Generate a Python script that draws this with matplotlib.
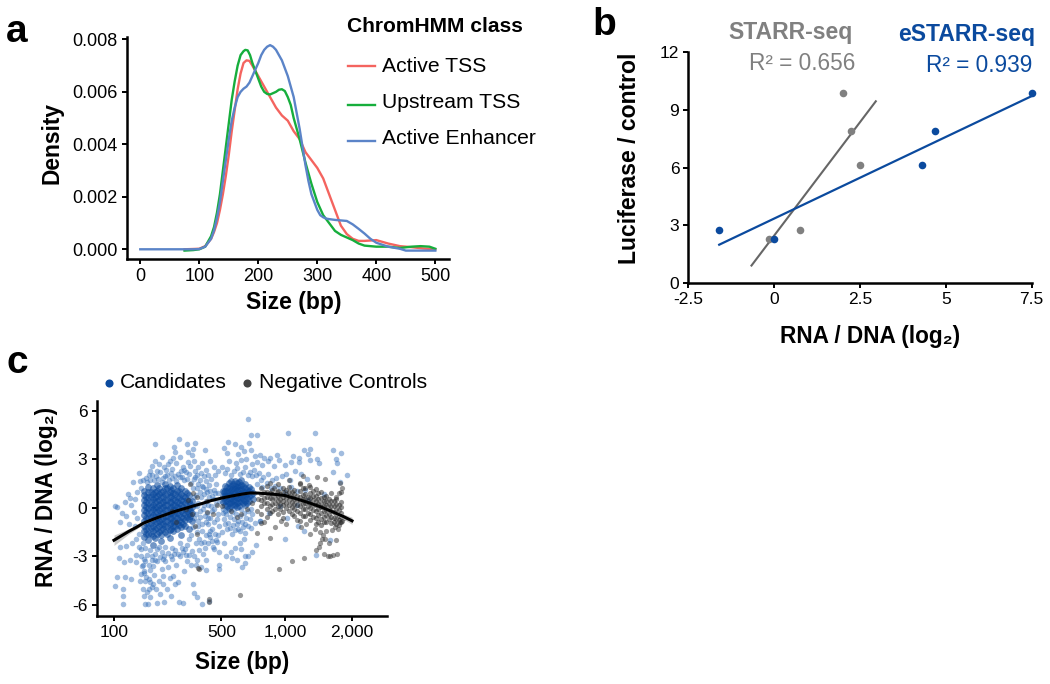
import numpy as np
import matplotlib
matplotlib.use("Agg")
import matplotlib.pyplot as plt
from matplotlib.transforms import Affine2D

plt.rcParams['font.family'] = ['Liberation Sans', 'DejaVu Sans']
plt.rcParams['axes.unicode_minus'] = False

W, H = 1050, 684
BLUE = '#0B4A9E'
fig = plt.figure(figsize=(W / 100, H / 100), dpi=100)
PX = Affine2D().scale(1, -1).translate(0, H)


def axes_px(left, top, right, bottom, tick_size):
    ax = fig.add_axes([left / W, 1 - bottom / H, (right - left) / W, (bottom - top) / H])
    ax.spines[['top', 'right']].set_visible(False)
    ax.spines[['left', 'bottom']].set_linewidth(1.8)
    ax.tick_params(width=1.4, length=3.5, pad=3, labelsize=tick_size, color='black')
    ax.patch.set_alpha(0)
    return ax


def label(x, y, s, size=16.3, weight='bold', color='black', ha='center', va='center', rot=0):
    fig.text(x, y, s, transform=PX, fontsize=size, fontweight=weight, color=color,
             ha=ha, va=va, rotation=rot)


# ---------- panel a data ----------
tss_x = [75, 100, 110, 120, 125, 130, 135, 140, 145, 150, 155, 160, 165, 170, 175, 180, 185, 190, 195, 200, 210, 220, 230, 240, 250, 260, 270,
         280, 290, 300, 310, 320, 330, 340, 350, 360, 370, 380, 400, 420, 440, 460, 480, 500]
tss_y = [0, .00002, .00012, .0004, .00066, .0010, .0015, .0021, .0028, .0036, .0045, .0053, .0061, .0067, .0071, .0072, .00718, .0070, .0068, .0066, .0062, .0058,
         .0054, .0051, .0049, .0045, .0042, .0037, .0034, .0031, .0027, .0021, .0015, .0009, .00058, .0004,
         .00032, .00032, .00035, .00022, .00012, .00008, .00003, 0]
up_x = [75, 90, 100, 110, 120, 125, 130, 135, 140, 145, 150, 155, 160, 165, 170, 175, 178, 182, 186, 190, 195, 200, 205, 210, 215, 220, 225, 230, 235, 240, 245, 250, 255, 260,
        270, 280, 290, 300, 310, 320, 330, 340, 350, 360, 370, 380, 400, 420, 440, 460, 475, 490, 500]
up_y = [-.00005, -.00003, 0, .0001, .0005, .00085, .0014, .0021, .0030, .0039, .0048, .0057, .0064, .0070, .0074, .00755, .0076, .00758, .0074, .0071, .0068, .0065, .0062, .0060,
        .00592, .0059, .00595, .0060, .00608, .0061, .00603, .0058, .0055, .0050, .0042, .0033, .0025, .0018, .0013, .0010, .0007, .00055,
        .00045, .00035, .00022, .00014, .0001, .0001, .00005, .0001, .00012, .0001, .00002]
enh_x = [0, 90, 100, 110, 120, 125, 130, 135, 140, 145, 150, 155, 160, 165, 170, 175, 180, 185, 190, 195, 200, 205, 210, 215, 220, 225, 230, 235, 240, 245, 250, 255, 260, 265, 270, 275, 280,
         285, 290, 295, 300, 305, 310, 315, 320, 330, 340, 350, 360, 370, 380, 390, 400, 420, 440, 450, 500]
enh_y = [0, 0, .00001, .0001, .0004, .00072, .0012, .0018, .0026, .0034, .0042, .0049, .0054, .0058, .0060, .00612, .0062, .00635, .0066, .00685, .0071, .0074, .0076, .00772, .00778,
         .00772, .0076, .0074, .0072, .0069, .0066, .0062, .0058, .0052, .0046, .0039, .0032, .0026, .0021, .0018, .0015, .0013, .00122, .00117, .00115, .00112, .0011, .00108, .00095,
         .00078, .0006, .0004, .00025, .0001, .00002, -.00005, -.00005]
class_names = ['Active TSS', 'Upstream TSS', 'Active Enhancer']
class_colors = ['#F4645F', '#16AE3C', '#5B84C8']

# ---------- panel b data ----------
lucif = [2.75, 2.3, 6.15, 7.9, 9.85]
estarr_rna = [-1.6, 0, 4.3, 4.67, 7.5]
starr_rna = [0.75, -0.15, 2.5, 2.25, 2.0]
estarr_fit_x, estarr_fit_y = [-1.6, 7.5], [2.0, 9.7]
starr_fit_x, starr_fit_y = [-0.66, 2.96], [0.92, 9.43]

# ---------- panel c data ----------
size_ticks = [100, 500, 1000, 2000]
size_tick_labels = ['100', '500', '1,000', '2,000']
curve_bp = [100, 112, 125, 140, 155, 172, 190, 207, 225, 242, 260, 280, 300, 335, 375, 430, 500, 550, 610, 650, 685, 750, 820, 900, 1000, 1130, 1290, 1450, 1640, 1820, 2000]
curve_y = [-2.0, -1.72, -1.45, -1.2, -0.95, -0.78, -0.62, -0.49, -0.37, -0.26, -0.17, -0.08, 0.0, 0.14, 0.27, 0.45, 0.6, 0.71, 0.82, 0.88, 0.92, 0.91, 0.87, 0.83, 0.76, 0.55, 0.3, 0.05, -0.25, -0.52, -0.8]
curve_se = [.32, .24, .16, .11, .08, .06, .05, .05, .04, .04, .04, .04, .04, .04, .04, .04, .04, .04, .04, .04, .04, .04, .04, .05, .05, .06, .06, .08, .1, .15, .22]

cand_high = [(184, 3.96), (265, 4.27), (300, 3.96), (338, 4.0), (246, 3.78), (250, 3.47), (325, 3.65), (305, 3.47),
             (320, 3.28), (205, 3.15), (185, 2.9), (230, 2.9), (242, 3.09), (268, 3.15), (305, 2.85), (332, 2.9),
             (375, 2.78), (392, 3.59), (178, 2.6), (195, 2.7), (212, 2.55), (226, 2.7), (255, 2.75), (282, 2.55),
             (315, 2.6), (350, 2.55), (400, 2.35), (420, 2.9), (445, 2.55), (172, 2.3), (192, 2.3), (218, 2.35),
             (240, 2.4), (272, 2.3), (296, 2.2), (338, 2.25), (366, 2.15), (388, 1.95), (410, 2.05), (455, 2.0),
             (475, 2.3), (162, 1.85), (147, 1.67), (145, 2.16), (133, 1.6), (142, 1.0), (124, .87), (128, .6),
             (118, .37), (101, .12), (105, .06), (112, -.3), (120, -.5), (130, .2), (137, .55), (150, 1.2),
             (155, 1.75), (168, 2.0), (135, -.25), (142, -.6), (110, -.9), (125, -1.0), (138, -1.1), (146, -1.6),
             (176, 2.05), (187, 1.95), (200, 2.2), (209, 1.85), (222, 2.05), (234, 2.15), (248, 1.95), (263, 2.1),
             (279, 1.9), (287, 2.35), (310, 2.1), (330, 1.8), (348, 2.0), (164, 1.6), (171, 1.75), (182, 1.7),
             (194, 1.78), (204, 1.62), (214, 1.95), (227, 1.7), (238, 1.85), (254, 1.68), (270, 1.92), (284, 1.72),
             (300, 1.8), (318, 1.55), (326, 1.2), (333, .7), (338, .15), (330, -.6), (325, -1.2)]
cand_mid = [(335, 1.9), (350, 1.5), (365, 1.75), (378, 1.3), (395, 1.65), (405, .95), (418, 1.4), (430, 1.8),
            (445, 1.1), (460, 1.5), (478, .9), (340, .8), (355, .3), (370, .7), (385, .2), (400, .4), (415, .65),
            (430, .1), (445, .55), (465, .25), (480, .4), (340, -.4), (352, -.8), (362, -.2), (375, -1.0),
            (390, -.5), (402, -.3), (412, -1.0), (425, -.6), (438, -1.3), (450, -.1), (466, -.7), (480, -1.1),
            (345, -1.5), (360, -1.9), (372, -1.45), (385, -2.1), (398, -1.7), (410, -2.2), (425, -1.8), (440, -2.4),
            (460, -2.0), (485, -2.7), (470, -2.1), (360, -2.6), (380, -2.85), (395, -3.2), (345, -3.2),
            (345, 1.2), (362, 1.0), (372, 1.35), (388, .85), (398, 1.15), (412, .15), (425, 1.05), (438, .75), (455, .9),
            (348, .1), (365, -.55), (380, -.1), (395, -.9), (408, -.6), (420, -1.4), (432, -.2), (446, -.85), (458, -1.6),
            (474, -.35), (352, -1.1), (368, -2.2), (392, -2.45), (415, -1.6), (432, -2.05), (450, -2.55), (478, -1.7)]
cand_right = [(665, 5.5), (690, 4.5), (735, 4.5), (535, 4.05), (580, 3.95), (675, 4.0), (620, 3.75), (515, 3.7),
              (530, 3.4), (600, 3.3), (640, 3.5), (690, 3.6), (720, 3.2), (760, 3.25), (800, 3.05), (850, 3.1),
              (920, 3.25), (545, 2.9), (585, 2.75), (620, 2.95), (655, 3.0), (700, 2.7), (740, 2.85), (780, 2.65),
              (830, 2.9), (885, 2.6), (940, 2.95), (1005, 2.65), (1060, 2.85), (1030, 4.6), (1360, 4.6), (1290, 3.65),
              (1215, 3.55), (1150, 3.05), (1090, 3.2), (1160, 2.85), (1270, 3.3), (1300, 2.95), (1390, 3.0), (1420, 2.75),
              (1650, 3.55), (1700, 3.0), (1790, 3.4), (1720, 2.75), (1905, 2.05), (1640, 2.2), (1760, 1.6), (530, 2.4),
              (575, 2.3), (610, 2.1), (650, 2.5), (680, 2.2), (715, 2.35), (755, 2.15), (790, 1.9), (835, 2.1),
              (870, 1.75), (910, 1.85), (965, 1.95), (1010, 2.1), (1055, 1.75), (1110, 2.3), (1185, 2.1), (1250, 1.8),
              (740, 1.5), (780, 1.3), (820, 1.55), (860, 1.2), (900, 1.35), (950, 1.25), (1000, 1.0), (1060, 1.3),
              (1130, 1.05), (1230, 1.1), (1490, .85), (1270, .5), (1130, .2), (950, .1), (840, -.3), (760, -.8),
              (1025, -.6), (1220, -1.4), (1140, -1.1), (1590, -2.0), (1380, -2.9), (1000, -1.9), (760, -.8),
              (510, -.3), (520, -1.0), (505, -1.5), (515, -2.2), (555, -2.7), (525, -2.95), (590, -3.2), (560, -3.1),
              (580, -2.5), (615, -2.2), (640, -1.9), (625, -3.65), (645, -3.0), (670, -2.95), (700, -2.75), (730, -2.3),
              (600, -1.3), (650, -1.55), (690, -1.25), (725, -.95), (620, -2.55), (480, -3.5), (480, -3.75), (650, -3.4),
              (505, 2.5), (520, 2.15), (555, 2.05), (595, 2.45), (635, 2.2), (665, 2.05), (700, 1.95), (730, 2.0), (770, 1.75)]
cand_low = [(105, -4.3), (118, -4.3), (130, -4.4), (102, -4.8), (114, -5.0), (114, -5.45), (114, -5.95), (147, -4.5),
            (158, -5.45), (166, -5.95), (190, -5.9), (212, -5.8), (160, -5.95), (265, -5.8), (282, -5.9), (375, -5.95),
            (415, -5.75), (325, -4.7), (332, -5.25), (345, -5.5), (108, -3.1), (116, -3.35), (127, -3.2), (140, -2.9),
            (140, -3.35), (110, -2.4), (120, -2.35), (131, -2.2), (140, -1.9), (146, -2.4), (150, -3.0), (152, -3.6),
            (156, -3.15), (158, -3.9), (162, -4.25), (168, -3.5), (172, -4.6), (160, -4.5), (176, -4.9), (182, -4.15),
            (188, -5.0), (195, -4.5), (200, -5.3), (210, -4.7), (222, -5.0), (235, -5.45), (242, -4.2), (250, -4.7),
            (262, -4.55), (165, -5.2), (172, -5.5), (155, -5.0), (180, -3.6), (192, -3.3), (205, -3.8), (216, -3.3),
            (226, -3.65), (240, -3.15), (255, -3.5), (270, -3.0), (284, -3.9), (300, -3.3), (318, -3.55), (340, -3.5),
            (368, -3.65), (395, -3.85), (150, -2.55), (165, -2.9), (185, -2.85), (205, -2.75), (225, -2.8), (250, -2.6),
            (280, -2.75), (300, -2.3), (320, -2.65), (340, -2.2), (158, -4.0), (155, -3.55), (176, -3.2), (196, -2.4),
            (160, -3.3), (172, -3.85), (186, -3.2), (200, -3.05), (212, -2.95), (234, -3.0), (262, -2.85), (290, -2.55),
            (310, -2.9), (330, -3.0), (150, -4.1), (168, -4.4), (180, -4.7), (208, -4.2), (230, -4.35), (170, -5.0),
            (160, -2.45), (172, -2.6), (192, -2.55), (214, -2.4), (240, -2.5), (268, -2.2), (278, -2.45), (308, -1.95),
            (318, -1.7), (155, -2.2), (178, -2.95), (210, -3.15), (245, -2.85), (295, -2.9)]
cand_lower_right = [(510, -.05), (528, -.4), (540, -.15), (552, -.55), (562, -.25), (574, -.7), (588, -.35), (600, -.8),
                    (612, -.5), (625, -.9), (640, -.3), (655, -.65), (670, -.2), (685, -.7), (700, -.35), (515, -.7),
                    (535, -.95), (548, -1.25), (565, -1.05), (580, -1.35), (595, -1.0), (610, -1.45), (630, -1.2),
                    (645, -1.0), (665, -1.1), (520, -.2), (575, -.1), (620, -.1), (690, -.1), (530, -1.3), (560, -1.6)]

# Dense clouds, read column by column: one size (bp) and the RNA/DNA values seen at it.
dense_sizes_1 = [157, 167, 179, 190, 202, 216, 230, 243, 258, 274, 290, 306, 322]
dense_col_157 = [1.05, .82, .5, .2, -.12, -.45, -.8, -1.1, -1.45, -1.8]
dense_col_167 = [1.3, 1.0, .65, .33, .02, -.3, -.62, -.95, -1.25, -1.6, -2.0]
dense_col_179 = [1.2, .85, .55, .2, -.1, -.42, -.75, -1.1, -1.45, -1.75, -2.3]
dense_col_190 = [1.4, 1.05, .72, .4, .05, -.28, -.6, -.9, -1.25, -1.6]
dense_col_202 = [1.0, .65, .32, 0, -.34, -.68, -1.0, -1.35, -1.7, -2.05]
dense_col_216 = [1.45, 1.2, .85, .5, .18, -.15, -.48, -.8, -1.15, -1.5]
dense_col_230 = [1.35, 1.0, .68, .35, .02, -.32, -.65, -1.0, -1.35, -1.85]
dense_col_243 = [1.25, .9, .55, .2, -.12, -.45, -.8, -1.1, -1.45]
dense_col_258 = [1.4, 1.05, .7, .38, .05, -.3, -.62, -.95, -1.3]
dense_col_274 = [1.25, .85, .5, .15, -.2, -.55, -.9, -1.2, -1.65]
dense_col_290 = [1.05, .7, .3, -.05, -.4, -.75, -1.15]
dense_col_306 = [.8, .4, .02, -.35, -.7, -1.3]
dense_col_322 = [.45, .05, -.3, -.8]
dense_sizes_1b = [162, 173, 185, 196, 209, 223, 236, 250, 266, 282, 298, 314]
dense_colb_162 = [.65, .35, .05, -.28, -.62, -.95, -1.3, -1.62]
dense_colb_173 = [1.0, .7, .38, .08, -.25, -.58, -.92, -1.27, -1.6]
dense_colb_185 = [1.0, .68, .36, .05, -.26, -.58, -.92, -1.28, -1.85]
dense_colb_196 = [1.2, .85, .5, .18, -.15, -.48, -.82, -1.15, -1.5]
dense_colb_209 = [1.05, .68, .35, .03, -.3, -.63, -.98, -1.32]
dense_colb_223 = [1.2, .85, .5, .2, -.15, -.48, -.82, -1.18, -1.6]
dense_colb_236 = [1.08, .72, .38, .04, -.3, -.62, -.95, -1.28]
dense_colb_250 = [.85, .5, .2, -.15, -.47, -.8, -1.15]
dense_colb_266 = [1.05, .68, .32, -.02, -.38, -.72, -1.08]
dense_colb_282 = [.75, .4, .05, -.3, -.65, -1.0]
dense_colb_298 = [.9, .5, .12, -.22, -.58]
dense_colb_314 = [.22, -.15, -.5]
dense_sizes_2 = [508, 523, 545, 568, 594, 621, 649, 677, 705]
dense_col_508 = [1.05, .72, .38]
dense_col_523 = [1.35, 1.05, .75, .45, .15]
dense_col_545 = [1.55, 1.25, 1.0, .78, .52, .28, 0]
dense_col_568 = [1.45, 1.2, .98, .72, .48, .22]
dense_col_594 = [1.55, 1.3, 1.08, .82, .58, .32, .05]
dense_col_621 = [1.75, 1.42, 1.18, .92, .68, .4]
dense_col_649 = [1.5, 1.22, .98, .72, .45, .15]
dense_col_677 = [1.3, 1.02, .75, .45]
dense_col_705 = [.9, .52]
dense_sizes_2b = [515, 534, 556, 581, 607, 635, 663, 691]
dense_colb_515 = [.95, .62]
dense_colb_534 = [1.3, 1.02, .72, .42, .12]
dense_colb_556 = [1.65, 1.35, 1.1, .85, .6, .35, .1]
dense_colb_581 = [1.65, 1.38, 1.14, .9, .65, .4, .15]
dense_colb_607 = [1.6, 1.35, 1.12, .88, .62, .38, .12]
dense_colb_635 = [1.32, 1.05, .8, .55, .28]
dense_colb_663 = [1.1, .85, .58, .3]
dense_colb_691 = [1.15, .8]

ctrl_scatter = [(415, -5.6), (415, -5.8), (610, -5.4), (935, -3.75), (1070, -3.3), (1215, -3.1), (1380, -2.6),
                (1440, -2.2), (1490, -2.85), (1560, -2.95), (1600, -3.0), (1650, -2.9), (1720, -2.85), (850, -1.85),
                (900, -1.2), (740, -1.55), (770, -.95), (800, -.9), (960, -.8), (1010, -1.0), (1130, -.75), (1180, -1.2),
                (1240, -1.0), (1300, -1.6), (1370, -1.3), (1430, -1.5), (1480, -1.65), (1530, -1.4), (1580, -2.2),
                (1620, -1.35), (1680, -1.2), (1730, -1.3), (1770, -.9), (1800, -.8), (1840, -.6), (1420, -2.4),
                (1470, -1.95), (1510, -1.9), (1700, -2.0), (1770, 1.55), (1800, 1.2), (1520, 1.8), (1395, 1.9), (1280, 1.4),
                (1200, 1.95), (1170, 1.5), (1040, 1.7), (920, .95), (890, 1.25), (850, 1.55), (1690, .65), (1750, .9),
                (350, -3.7), (360, -3.75), (240, -.2), (255, -.9), (320, -.4), (335, -1.15), (345, -1.6), (305, .5),
                (325, .9), (295, -.1), (315, 1.5), (345, .7), (405, .45), (405, -.25), (440, -.4), (470, .2), (505, .1),
                (555, -.2), (590, -.55), (620, -.4), (660, -.05), (700, .3), (735, -.2), (745, .55)]
ctrl_sizes = [770, 820, 870, 925, 980, 1040, 1100, 1165, 1235, 1300, 1375, 1450, 1530, 1610, 1700, 1790]
ctrl_col_770 = [1.2, .85, .5, .1, -.35]
ctrl_col_820 = [1.35, 1.0, .7, .3, -.1, -.55]
ctrl_col_870 = [1.1, .85, .55, .25, -.2]
ctrl_col_925 = [1.5, 1.05, .75, .45, .1, -.4]
ctrl_col_980 = [1.2, .95, .7, .4, .15, -.25, -.6]
ctrl_col_1040 = [1.3, 1.0, .75, .5, .2, -.2]
ctrl_col_1100 = [1.1, .85, .55, .25, -.1, -.5]
ctrl_col_1165 = [1.55, 1.05, .7, .45, .1, -.3, -.8]
ctrl_col_1235 = [1.2, .85, .55, .3, -.05, -.5]
ctrl_col_1300 = [1.3, .9, .6, .3, 0, -.35, -.75]
ctrl_col_1375 = [1.15, .75, .45, .15, -.2, -.65, -1.0]
ctrl_col_1450 = [1.0, .6, .3, .05, -.3, -.7, -1.05]
ctrl_col_1530 = [.75, .45, .15, -.15, -.45, -.85]
ctrl_col_1610 = [.9, .4, .1, -.2, -.55, -.95]
ctrl_col_1700 = [.55, .25, -.1, -.35, -.7, -1.0]
ctrl_col_1790 = [1.0, .35, .05, -.3, -.55, -.85]
ctrl_sizes_b = [795, 845, 897, 952, 1010, 1070, 1132, 1200, 1267, 1337, 1412, 1490, 1570, 1655, 1745]
ctrl_colb_795 = [.95, .62, .3]
ctrl_colb_845 = [.9, .58, .12, -.3]
ctrl_colb_897 = [.6, .3, -.05]
ctrl_colb_952 = [.85, .55, .25, -.1]
ctrl_colb_1010 = [1.1, .85, .6, .32, .02]
ctrl_colb_1070 = [.95, .65, .38, .05, -.35]
ctrl_colb_1132 = [.75, .48, .18, -.2]
ctrl_colb_1200 = [1.2, .8, .55, .25, -.05, -.5]
ctrl_colb_1267 = [.7, .4, .1, -.3]
ctrl_colb_1337 = [1.05, .75, .48, .2, -.15, -.55]
ctrl_colb_1412 = [.9, .55, .22, -.1, -.45, -.85]
ctrl_colb_1490 = [.7, .4, .12, -.2, -.55, -.9]
ctrl_colb_1570 = [.55, .25, -.05, -.35, -.7]
ctrl_colb_1655 = [.4, .1, -.25, -.6, -.85]
ctrl_colb_1745 = [.2, -.15, -.5, -.75, -1.05]

# ---------- panel a ----------
ax = axes_px(126.7, 37, 449.3, 259, 13)
for xs, ys, c in [(tss_x, tss_y, class_colors[0]), (up_x, up_y, class_colors[1]), (enh_x, enh_y, class_colors[2])]:
    ax.plot(xs, ys, color=c, lw=1.7, solid_joinstyle='round')
ax.set_xlim(-23, 523.7)
ax.set_ylim(-0.00037, 0.00809)
ax.set_xticks([0, 100, 200, 300, 400, 500])
ax.set_yticks([0, .002, .004, .006, .008])
ax.set_yticklabels(['0.000', '0.002', '0.004', '0.006', '0.008'])
label(293.5, 303, 'Size (bp)', size=16.5)
label(52, 143, 'Density', size=16.4, rot=90)
label(346.7, 27, 'ChromHMM class', size=15.1, ha='left')
for name, c, line_y, text_y in zip(class_names, class_colors, [66, 105, 141], [66, 102.5, 139]):
    ax.plot([347.7, 375], [line_y, line_y], color=c, lw=1.7, transform=PX, clip_on=False)
    label(381.7, text_y, name, size=15.2, weight='normal', ha='left')

# ---------- panel b ----------
ax = axes_px(688.3, 51.7, 1031.7, 283.3, 12.5)
ax.plot(starr_fit_x, starr_fit_y, color='#666666', lw=1.5, zorder=2)
ax.plot(estarr_fit_x, estarr_fit_y, color=BLUE, lw=1.6, zorder=2)
ax.scatter(starr_rna, lucif, s=30, color='#808080', linewidths=0, zorder=3, clip_on=False)
ax.scatter(estarr_rna, lucif, s=30, color=BLUE, linewidths=0, zorder=3, clip_on=False)
ax.set_xlim(-2.5, 7.5)
ax.set_ylim(0, 12)
ax.set_xticks([-2.5, 0, 2.5, 5, 7.5])
ax.set_xticklabels(['-2.5', '0', '2.5', '5', '7.5'])
ax.set_yticks([0, 3, 6, 9, 12])
label(870, 336, 'RNA / DNA (log₂)')
label(630, 158, 'Luciferase / control', size=16.6, rot=90)
label(853, 33, 'STARR-seq', size=16.6, color='#808080', ha='right')
label(855, 63, 'R² = 0.656', size=16.3, weight='normal', color='#808080', ha='right')
label(1035, 35, 'eSTARR-seq', size=16.6, color=BLUE, ha='right')
label(1032, 65, 'R² = 0.939', size=16.3, weight='normal', color=BLUE, ha='right')

# ---------- panel c ----------
ax = axes_px(96.5, 401, 387, 616, 12.5)
knots_bp = np.log10([77, 100, 500, 1000, 2000, 2870])
knots_px = np.array([96.5, 114, 221.3, 285, 352, 387])


def fwd(v):
    return np.interp(np.log10(np.maximum(v, 1)), knots_bp, knots_px)


def inv(v):
    return 10 ** np.interp(v, knots_px, knots_bp)


ax.set_xscale('function', functions=(fwd, inv))


def columns(sizes, cols):
    return [(s, y) for s, col in zip(sizes, cols) for y in col]


dense_1 = columns(dense_sizes_1, [dense_col_157, dense_col_167, dense_col_179, dense_col_190, dense_col_202,
                                  dense_col_216, dense_col_230, dense_col_243, dense_col_258, dense_col_274,
                                  dense_col_290, dense_col_306, dense_col_322])
dense_1b = columns(dense_sizes_1b, [dense_colb_162, dense_colb_173, dense_colb_185, dense_colb_196, dense_colb_209,
                                    dense_colb_223, dense_colb_236, dense_colb_250, dense_colb_266, dense_colb_282,
                                    dense_colb_298, dense_colb_314])
dense_2 = columns(dense_sizes_2, [dense_col_508, dense_col_523, dense_col_545, dense_col_568, dense_col_594,
                                  dense_col_621, dense_col_649, dense_col_677, dense_col_705])
dense_2b = columns(dense_sizes_2b, [dense_colb_515, dense_colb_534, dense_colb_556, dense_colb_581, dense_colb_607,
                                    dense_colb_635, dense_colb_663, dense_colb_691])
ctrl_dense = columns(ctrl_sizes, [ctrl_col_770, ctrl_col_820, ctrl_col_870, ctrl_col_925, ctrl_col_980, ctrl_col_1040,
                                  ctrl_col_1100, ctrl_col_1165, ctrl_col_1235, ctrl_col_1300, ctrl_col_1375,
                                  ctrl_col_1450, ctrl_col_1530, ctrl_col_1610, ctrl_col_1700, ctrl_col_1790])
ctrl_dense += columns(ctrl_sizes_b, [ctrl_colb_795, ctrl_colb_845, ctrl_colb_897, ctrl_colb_952, ctrl_colb_1010,
                                     ctrl_colb_1070, ctrl_colb_1132, ctrl_colb_1200, ctrl_colb_1267, ctrl_colb_1337,
                                     ctrl_colb_1412, ctrl_colb_1490, ctrl_colb_1570, ctrl_colb_1655, ctrl_colb_1745])
sparse = np.array(cand_high + cand_mid + cand_right + cand_low + cand_lower_right)
dense = np.array(dense_1 + dense_1b + dense_2 + dense_2b)
ctrl = np.array(ctrl_scatter)
ctrl2 = np.array(ctrl_dense)
ax.scatter(sparse[:, 0], sparse[:, 1], s=16, color='#2F6CB8', alpha=.45, linewidths=0, zorder=2)
ax.scatter(dense[:, 0], dense[:, 1], s=24, color=BLUE, alpha=.58, linewidths=0, zorder=2)
ax.scatter(ctrl[:, 0], ctrl[:, 1], s=14, color='#333333', alpha=.5, linewidths=0, zorder=3)
ax.scatter(ctrl2[:, 0], ctrl2[:, 1], s=14, color='#222222', alpha=.5, linewidths=0, zorder=3)
c_x, c_y, c_se = np.array(curve_bp), np.array(curve_y), np.array(curve_se)
ax.fill_between(c_x, c_y - c_se, c_y + c_se, color='#BDBDBD', alpha=.8, linewidth=0, zorder=4)
ax.plot(c_x, c_y, color='black', lw=2.2, zorder=5)
ax.set_xlim(77, 2870)
ax.set_ylim(-6.68, 6.6)
ax.set_xticks(size_ticks)
ax.set_xticklabels(size_tick_labels)
ax.minorticks_off()
ax.set_yticks([-6, -3, 0, 3, 6])
label(242, 663, 'Size (bp)')
label(47, 497, 'RNA / DNA (log₂)', rot=90)
for dot_x, text_x, name, c in [(108.7, 120, 'Candidates', BLUE), (246.7, 259.3, 'Negative Controls', '#444444')]:
    ax.scatter([dot_x], [383], s=34, color=c, linewidths=0, transform=PX, clip_on=False)
    label(text_x, 383, name, size=15.2, weight='normal', ha='left')

# ---------- panel letters ----------
for x, y, s in [(6, 42.5, 'a'), (592, 35, 'b'), (7, 373, 'c')]:
    fig.text(x, y, s, transform=PX, fontsize=28, fontweight='bold', ha='left', va='baseline')

fig.savefig('out.png', dpi=100)
